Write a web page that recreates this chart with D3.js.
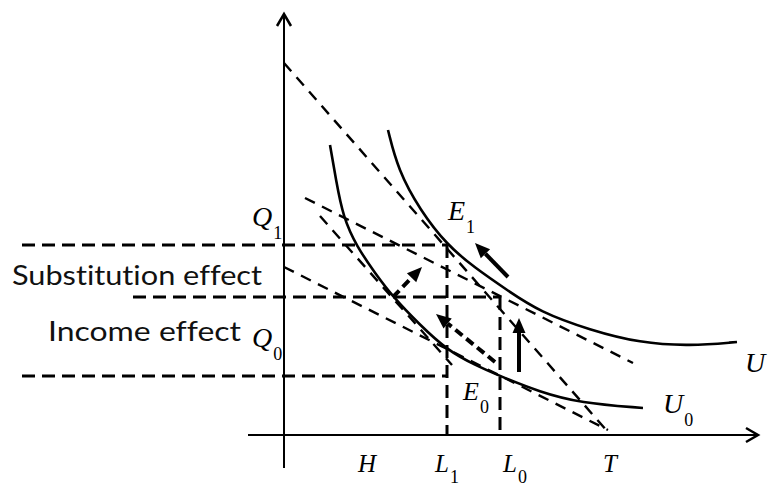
<!DOCTYPE html>
<html>
<head>
<meta charset="utf-8">
<script src="https://cdn.jsdelivr.net/npm/d3@7"></script>
<style>
  html, body { margin: 0; padding: 0; background: #fff; }
  svg { display: block; }
</style>
</head>
<body>
<svg id="chart" width="768" height="486"></svg>
<script>
// ---------- data (abstract units: origin at the axes' crossing) ----------
const curveU  = [[104,305],[114,265],[136,225],[163,190],[191,167],[223,145],[256,123],[306,105],[356,92],[406,89],[453,93]];
const curveU0 = [[46,290],[52,255],[59,218],[73,188],[91,162],[109,138],[136,110],[163,85],[191,70],[216,59],[256,43],[296,32],[359,27]];

// budget lines [x1,y1,x2,y2]
const budgetLines = [
  [0,372,324,3],    // steep, tangent to U at E1
  [21,237,349,72],  // flat, tangent to U
  [0,168,324,5],    // flat, tangent to U0 at E0
  [36,219,168,70]   // steep, tangent to U0
];

// guide levels
const levelQ1 = 190, levelMid = 138, levelQ0 = 59;
const posL1 = 163, posL0 = 216;
const hGuides = [[-262, levelQ1, posL1], [-151, levelMid, posL0], [-262, levelQ0, posL1]];
const vGuides = [[posL1, levelQ1], [posL0, levelMid]];

// arrows [x1,y1,x2,y2,dashed]
const arrows = [
  [109,138,138,168,true],
  [224,158,191,192,false],
  [235,63,235,117,false],
  [211,73,152,121,true]
];

// italic labels [main, sub, x, y, size, subDy]
const labels = [
  ["Q","1",-32,209,28,13],
  ["Q","0",-32,88,28,13],
  ["E","1",164,215,28,13],
  ["E","0",179,35,26,13],
  ["U","",461,63,28,13],
  ["U","0",379,22,28,13],
  ["H","",74,-37,25,13],
  ["L","1",151,-37,25,11],
  ["L","0",219,-37,25,11],
  ["T","",319,-37,25,13]
];
const effectTexts = [
  ["Substitution effect", 12, 285, 250],
  ["Income  effect", 48, 341, 193]
];

// ---------- scales ----------
const x = d3.scaleLinear().domain([0, 474]).range([284, 758]);
const y = d3.scaleLinear().domain([0, 421]).range([435, 14]);

const svg = d3.select("#chart");
const g = svg.append("g");

// axes
g.append("line").attr("x1", x(-36)).attr("x2", x(474)).attr("y1", y(0)).attr("y2", y(0))
  .attr("stroke", "#000").attr("stroke-width", 2);
g.append("line").attr("x1", x(0)).attr("x2", x(0)).attr("y1", y(-33)).attr("y2", y(421))
  .attr("stroke", "#000").attr("stroke-width", 2);
// axis arrowheads (open chevrons)
g.append("path").attr("d", `M${x(474)-12},${y(0)-7} L${x(474)},${y(0)} L${x(474)-12},${y(0)+7}`)
  .attr("fill", "none").attr("stroke", "#000").attr("stroke-width", 2.5);
g.append("path").attr("d", `M${x(0)-7},${y(421)+12} L${x(0)},${y(421)} L${x(0)+7},${y(421)+12}`)
  .attr("fill", "none").attr("stroke", "#000").attr("stroke-width", 2.5);

// guide lines
g.selectAll(".hg").data(hGuides).enter().append("line")
  .attr("x1", d => x(d[0])).attr("x2", d => x(d[2]))
  .attr("y1", d => y(d[1])).attr("y2", d => y(d[1]))
  .attr("stroke", "#000").attr("stroke-width", 3).attr("stroke-dasharray", "13,7");
g.selectAll(".vg").data(vGuides).enter().append("line")
  .attr("x1", d => x(d[0])).attr("x2", d => x(d[0]))
  .attr("y1", d => y(d[1])).attr("y2", y(0))
  .attr("stroke", "#000").attr("stroke-width", 3).attr("stroke-dasharray", "13,7");

// budget lines
g.selectAll(".bl").data(budgetLines).enter().append("line")
  .attr("x1", d => x(d[0])).attr("y1", d => y(d[1]))
  .attr("x2", d => x(d[2])).attr("y2", d => y(d[3]))
  .attr("stroke", "#000").attr("stroke-width", 2.4).attr("stroke-dasharray", "11,8");

// indifference curves
const lineGen = d3.line().x(d => x(d[0])).y(d => y(d[1])).curve(d3.curveBasis);
[curveU, curveU0].forEach(c => {
  g.append("path").attr("d", lineGen(c)).attr("fill", "none")
    .attr("stroke", "#000").attr("stroke-width", 2.6);
});

// arrows
arrows.forEach(a => {
  const x1 = x(a[0]), y1 = y(a[1]), x2 = x(a[2]), y2 = y(a[3]);
  const ang = Math.atan2(y2 - y1, x2 - x1);
  const len = 15, half = 6.5;
  const bx = x2 - len * Math.cos(ang), by = y2 - len * Math.sin(ang);
  g.append("line").attr("x1", x1).attr("y1", y1).attr("x2", bx).attr("y2", by)
    .attr("stroke", "#000").attr("stroke-width", 4)
    .attr("stroke-dasharray", a[4] ? "9,5" : null);
  const px = -Math.sin(ang), py = Math.cos(ang);
  g.append("path")
    .attr("d", `M${x2},${y2} L${bx + half * px},${by + half * py} L${bx - half * px},${by - half * py} Z`)
    .attr("fill", "#000");
});

// italic labels
labels.forEach(l => {
  const t = g.append("text").attr("x", x(l[2])).attr("y", y(l[3]))
    .attr("font-family", "'Liberation Serif', 'DejaVu Serif', serif")
    .attr("font-style", "italic").attr("font-size", l[4]).attr("fill", "#000");
  t.append("tspan").text(l[0]);
  if (l[1]) {
    t.append("tspan").text(l[1]).attr("font-style", "normal")
      .attr("font-size", 18).attr("dx", 1).attr("dy", l[5]);
  }
});

// effect texts
effectTexts.forEach(e => {
  g.append("text").attr("x", e[1]).attr("y", e[2])
    .attr("font-family", "Lato, 'Open Sans', sans-serif").attr("font-size", 27)
    .style("font-variant-ligatures", "none")
    .attr("textLength", e[3]).attr("lengthAdjust", "spacingAndGlyphs")
    .attr("fill", "#111").text(e[0]);
});
</script>
</body>
</html>
